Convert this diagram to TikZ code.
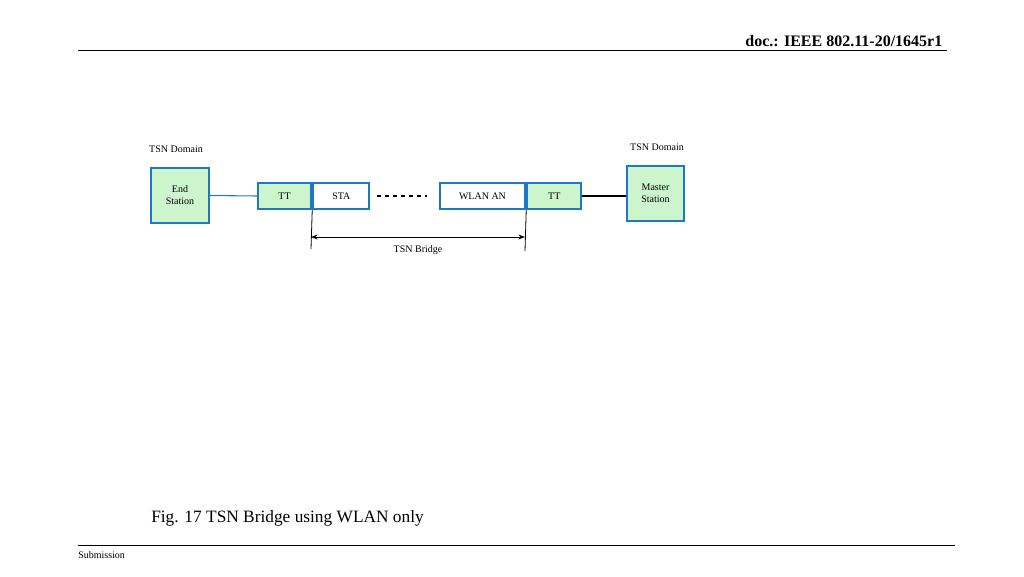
\documentclass[tikz,border=0pt]{standalone}
\usepackage{fontspec}
\setmainfont{Liberation Serif}
\usetikzlibrary{positioning,arrows.meta}
\definecolor{boxblue}{RGB}{30,120,200}
\definecolor{boxgreen}{RGB}{205,245,205}
\begin{document}
\begin{tikzpicture}[
    x=0.75pt, y=-0.75pt,
    stn/.style={draw=boxblue, line width=1.6pt, fill=boxgreen, minimum width=43pt, minimum height=41pt, align=center, font=\fontsize{7.5}{9}\selectfont, inner sep=0pt},
    part/.style={draw=boxblue, line width=1.6pt, minimum height=19.5pt, inner sep=0pt, font=\fontsize{7.5}{9}\selectfont},
    lbl/.style={font=\fontsize{7.5}{9}\selectfont}
]
    \useasboundingbox (0,0) rectangle (1024,576);
    % header and footer
    \draw[line width=0.6pt] (78,50) -- (947,50);
    \node[anchor=base east, font=\bfseries\fontsize{12}{14}\selectfont] (hdr) at (947,46) {doc.: IEEE 802.11-20/1645r1};
    \draw[line width=0.6pt] (78,545) -- (955,545);
    \node[anchor=west, lbl, inner sep=0pt] (sub) at (78,555) {Submission};
    \node[anchor=west, inner sep=0pt, font=\fontsize{13}{15}\selectfont] (cap) at (151,518) {Fig. 17 TSN Bridge using WLAN only};
    % stations
    \node[stn] (end) at (180,195.5) {End\\Station};
    \node[stn] (master) at (655.5,193.5) {Master\\Station};
    \node[lbl] (dl) at (176,149) {TSN Domain};
    \node[lbl] (dr) at (657,147) {TSN Domain};
    % bridge parts
    \node[part, fill=boxgreen, minimum width=40pt] (tt1) at (284.5,196) {TT};
    \node[part, fill=white, minimum width=42pt, right=0pt of tt1] (sta) {STA};
    \node[part, fill=white, minimum width=64pt] (wlan) at (482.5,196) {WLAN AN};
    \node[part, fill=boxgreen, minimum width=40.5pt, right=0pt of wlan] (tt2) {TT};
    % connectors
    \draw[boxblue, line width=0.8pt] (end.east) -- (tt1.west);
    \draw[line width=0.8pt] (tt2.east) -- (master.west |- tt2.east);
    \draw[dashed, line width=0.8pt] ([xshift=5pt]sta.east) -- ([xshift=-9pt]wlan.west);
    \coordinate (la) at (311,249);
    \coordinate (lb) at (525,251);
    \draw[line width=0.6pt] (tt1.south east) -- (la);
    \draw[line width=0.6pt] (wlan.south east) -- (lb);
    \draw[{Stealth[length=5pt]}-{Stealth[length=5pt]}, line width=0.6pt] (311,237) -- (525,237);
    \node[lbl] (br) at (418,250) {TSN Bridge};
\end{tikzpicture}
\end{document}
